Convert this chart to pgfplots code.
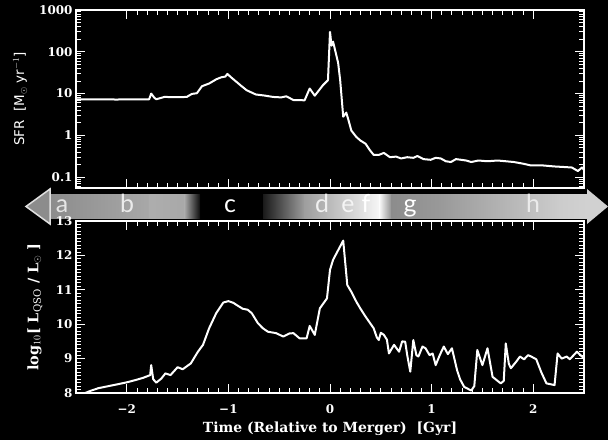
\documentclass[border=0pt]{standalone}
\usepackage{pgfplots}
\pgfplotsset{compat=1.18}
\usepackage{fontspec}
\setmainfont{DejaVu Serif}
\newfontfamily\bandfont{Lato}
\newfontfamily\labfont{DejaVu Sans}

\pgfplotstableread{
x y
-2.52 7.3
-2.30 7.3
-2.10 7.2
-1.95 7.3
-1.78 7.3
-1.76 10.0
-1.73 8.0
-1.71 7.3
-1.63 8.3
-1.50 8.2
-1.41 8.3
-1.36 9.8
-1.31 10.2
-1.26 15
-1.19 17.4
-1.12 21.9
-1.07 24.5
-1.03 25.5
-1.01 29.5
-0.97 24
-0.92 19
-0.87 15
-0.82 12
-0.73 9.5
-0.65 9.0
-0.56 8.3
-0.48 8.1
-0.43 8.6
-0.36 7.0
-0.25 6.9
-0.20 13.2
-0.15 8.9
-0.07 15.8
-0.02 20.9
0.00 300
0.015 140
0.03 175
0.05 110
0.08 54
0.10 21
0.13 2.8
0.16 3.5
0.18 2.4
0.21 1.3
0.26 0.91
0.30 0.75
0.35 0.63
0.39 0.45
0.43 0.34
0.48 0.34
0.53 0.38
0.59 0.30
0.65 0.31
0.70 0.28
0.76 0.30
0.82 0.29
0.86 0.32
0.92 0.27
0.99 0.26
1.04 0.29
1.09 0.28
1.14 0.24
1.19 0.23
1.24 0.27
1.29 0.26
1.34 0.25
1.39 0.23
1.46 0.25
1.55 0.24
1.65 0.25
1.73 0.24
1.81 0.23
1.90 0.21
1.98 0.19
2.10 0.19
2.21 0.18
2.30 0.175
2.38 0.17
2.44 0.14
2.48 0.17
2.52 0.13
}\sfrtable

\pgfplotstableread{
x y
-2.52 7.85
-2.44 7.96
-2.36 8.06
-2.28 8.14
-2.18 8.20
-2.08 8.26
-2.00 8.31
-1.91 8.38
-1.84 8.44
-1.77 8.52
-1.76 8.81
-1.74 8.40
-1.71 8.30
-1.66 8.42
-1.62 8.57
-1.57 8.52
-1.50 8.75
-1.45 8.69
-1.37 8.86
-1.30 9.20
-1.25 9.40
-1.19 9.88
-1.12 10.32
-1.05 10.63
-1.00 10.67
-0.95 10.62
-0.92 10.56
-0.86 10.45
-0.81 10.42
-0.77 10.32
-0.71 10.03
-0.66 9.88
-0.61 9.78
-0.53 9.74
-0.46 9.64
-0.40 9.73
-0.36 9.74
-0.30 9.59
-0.23 9.59
-0.20 9.95
-0.15 9.69
-0.10 10.46
-0.03 10.75
0.00 11.58
0.03 11.87
0.08 12.15
0.13 12.43
0.17 11.14
0.21 10.94
0.26 10.65
0.30 10.45
0.35 10.22
0.39 10.05
0.43 9.88
0.46 9.62
0.48 9.54
0.50 9.75
0.53 9.69
0.56 9.55
0.58 9.15
0.63 9.40
0.68 9.20
0.71 9.50
0.74 9.49
0.76 9.10
0.79 8.62
0.82 9.54
0.85 9.10
0.87 9.06
0.91 9.35
0.94 9.30
0.98 9.10
1.01 9.15
1.04 8.81
1.08 9.10
1.12 9.35
1.16 9.13
1.20 9.30
1.25 8.67
1.28 8.40
1.32 8.18
1.39 8.07
1.42 8.20
1.45 9.25
1.50 8.81
1.55 9.30
1.60 8.47
1.68 8.28
1.71 8.35
1.73 9.44
1.76 8.85
1.78 8.72
1.83 8.90
1.87 9.06
1.91 8.98
1.95 9.10
1.98 9.06
2.03 8.98
2.08 8.60
2.13 8.28
2.21 8.23
2.24 9.15
2.28 9.00
2.33 9.06
2.36 8.98
2.43 9.20
2.48 9.06
2.52 8.95
}\lqsotable

\definecolor{bandA}{gray}{0.55}
\pgfplotsset{
  panel/.style={
    scale only axis, anchor=south west,
    width=508bp, xmin=-2.5, xmax=2.5,
    axis line style={white, line width=1.3bp},
    tick style={white, line width=0.9bp},
    major tick length=9bp, minor tick length=5bp,
    tick align=inside,
    xtick={-2,-1,0,1,2}, minor x tick num=9,
    tick label style={text=white, font=\bfseries\fontsize{12}{13}\selectfont},
    /pgf/number format/assume math mode=true,
  }
}

\begin{document}
\begin{tikzpicture}[x=1bp,y=1bp]
\fill[black] (0,0) rectangle (608,440);

% band
\shade[left color=bandA, right color={gray!68!white}] (50,221) rectangle (150,245);
\shade[left color={black!32}, right color={black!34}] (149.5,221) rectangle (185,245);
\shade[left color={black!34}, right color={black!95}] (184.5,221) rectangle (200,245);
\shade[left color={black!90}, right color={black!38}] (263,221) rectangle (305,245);
\shade[left color={black!38}, right color={black!20}] (304.5,221) rectangle (345,245);
\shade[left color={black!20}, right color={black!3}] (344.5,221) rectangle (380,245);
\shade[left color={black!3}, right color={black!45}] (379.5,221) rectangle (392,245);
\shade[left color={black!45}, right color={black!40}] (391.5,221) rectangle (440,245);
\shade[left color={black!40}, right color={black!20}] (439.5,221) rectangle (560,245);
\shade[left color={black!20}, right color={black!18}] (559.5,221) rectangle (587.5,245);
\fill[black!45, draw=black!12, line width=1.5bp] (50,251) -- (26,233.5) -- (50,216) -- cycle;
\fill[black!18] (587,251) -- (608,233.5) -- (587,216) -- cycle;
\begin{scope}[every node/.style={anchor=base, inner sep=0pt, font=\bandfont\fontsize{25}{25}\selectfont}]
\node[text=black!10] at (62,227.5) {a};
\node[text=black!8] at (127,227.5) {b};
\node[text=white] at (230,227.5) {c};
\node[text=black!6] at (322,227.5) {d};
\node[text=black!4] at (348,227.5) {e};
\node[text=white] at (366,227.5) {f};
\node[text=white] at (410,227.5) {g};
\node[text=black!8] at (533,227.5) {h};
\end{scope}

\begin{axis}[panel, at={(76bp,252bp)}, height=178bp,
  ymode=log, ymin=0.055, ymax=1000,
  xticklabels={},
  ytick={0.1,1,10,100,1000},
  yticklabels={0.1,1,10,100,1000},
  minor ytick={0.06,0.07,0.08,0.09,0.2,0.3,0.4,0.5,0.6,0.7,0.8,0.9,2,3,4,5,6,7,8,9,20,30,40,50,60,70,80,90,200,300,400,500,600,700,800,900},
  ylabel={\labfont SFR\ \ [M$_{\odot}$ yr$^{-1}$]},
  ylabel style={at={(axis description cs:-0.110,0.5)}, anchor=center, text=white, font=\fontsize{13.5}{13.5}\selectfont},
]
\addplot[white, line width=2bp, line join=round] table[x=x, y=y] {\sfrtable};
\end{axis}

\begin{axis}[panel, at={(76bp,47bp)}, height=172bp,
  ymin=8, ymax=13,
  xticklabels={−2,−1,0,1,2},
  xticklabel style={yshift=-8bp},
  ytick={8,9,10,11,12,13},
  yticklabels={8,9,10,11,12,13},
  minor y tick num=9,
  xlabel={Time (Relative to Merger)\ \ [Gyr]},
  xlabel style={at={(axis description cs:0.5,-0.205)}, anchor=center, text=white, font=\bfseries\fontsize{14}{14}\selectfont},
  ylabel={log$_{10}$[ L$_{\mathrm{QSO}}$ / L$_{\odot}$ ]},
  ylabel style={at={(axis description cs:-0.081,0.5)}, anchor=center, text=white, font=\bfseries\fontsize{14.5}{14.5}\selectfont},
]
\addplot[white, line width=2bp, line join=round] table[x=x, y=y] {\lqsotable};
\end{axis}
\end{tikzpicture}
\end{document}
